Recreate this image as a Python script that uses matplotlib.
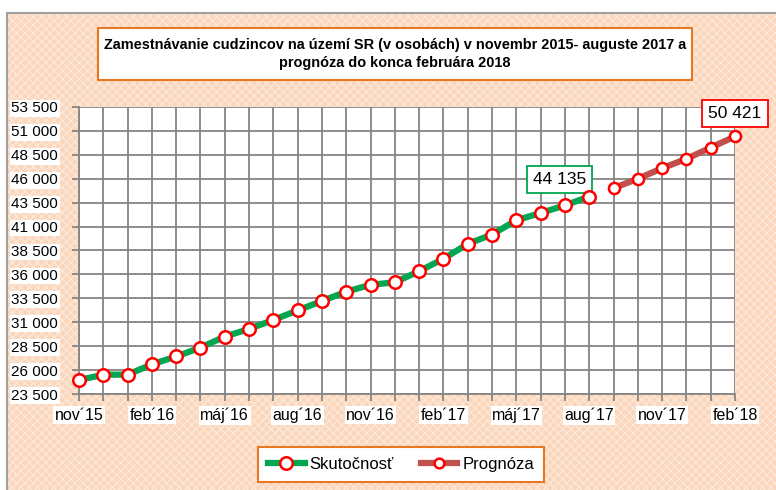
import matplotlib.pyplot as plt
from matplotlib.patches import Rectangle
from matplotlib.lines import Line2D

# Mesiace nov 2015 - feb 2018
mesiace = ["nov´15", "dec´15", "jan´16", "feb´16", "mar´16", "apr´16", "máj´16",
           "jún´16", "júl´16", "aug´16", "sep´16", "okt´16", "nov´16", "dec´16",
           "jan´17", "feb´17", "mar´17", "apr´17", "máj´17", "jún´17", "júl´17",
           "aug´17", "sep´17", "okt´17", "nov´17", "dec´17", "jan´18", "feb´18"]

skutocnost = [24960, 25520, 25520, 26600, 27420, 28350, 29500, 30300, 31240, 32240,
              33220, 34190, 34920, 35170, 36340, 37630, 39190, 40170, 41660, 42420,
              43220, 44135]
prognoza = [45020, 46000, 47100, 48080, 49260, 50421]

y_ticky = list(range(23500, 53501, 2500))

plt.rcParams['font.family'] = ['Liberation Sans Narrow', 'DejaVu Sans Condensed',
                               'Liberation Sans', 'DejaVu Sans']

fig = plt.figure(figsize=(7.76, 4.9), dpi=100)
W, H = 776, 490


def fx(px):
    return px / W


def fy(py):
    return 1 - py / H


# pozadie grafu
for kw in [dict(facecolor="#FBD6BA", edgecolor="none"),
           dict(facecolor="none", edgecolor="#FDE8D8", hatch="xxxx", lw=0),
           dict(facecolor="none", edgecolor="#A0A0A0", lw=1.5)]:
    fig.patches.append(Rectangle((fx(7), -0.05), 1.1, fy(13) + 0.05,
                                 transform=fig.transFigure, zorder=-10, **kw))

# nadpis
fig.patches.append(Rectangle((fx(98), fy(80)), fx(692) - fx(98), fy(28) - fy(80),
                             transform=fig.transFigure, facecolor="white",
                             edgecolor="#E87722", lw=1.5, zorder=-5))
nadpis = fig.text(fx(395), fy(54), "Zamestnávanie cudzincov na území SR (v osobách) v novembr 2015- auguste 2017 a\n"
                  "prognóza do konca februára 2018", ha="center", va="center", fontsize=11.5,
                  fontweight="bold", linespacing=1.3)

ax = fig.add_axes([fx(79), fy(394), fx(735) - fx(79), fy(107) - fy(394)])
ax.set_facecolor("white")

x_skut = list(range(len(skutocnost)))
x_prog = list(range(len(skutocnost), len(skutocnost) + len(prognoza)))

ax.plot(x_skut, skutocnost, color="#00A650", lw=4.5, marker="o", ms=9,
        mfc="white", mec="red", mew=1.8, zorder=5, clip_on=False, label="Skutočnosť")
ax.plot(x_prog, prognoza, color="#C0504D", lw=4.5, marker="o", ms=8,
        mfc="white", mec="red", mew=1.8, zorder=5, clip_on=False, label="Prognóza")

ax.set_xlim(0, len(mesiace) - 1)
ax.set_ylim(23500, 53500)
ax.set_yticks(y_ticky)
ax.set_yticklabels([f"{v:,}".replace(",", " ") for v in y_ticky], fontsize=11)
ax.set_xticks(range(0, len(mesiace), 3))
ax.set_xticklabels(mesiace[::3], fontsize=11.5)
ax.set_xticks(range(len(mesiace)), minor=True)
ax.grid(True, which="both", color="#858585", lw=1.3)
ax.set_axisbelow(True)
for s in ax.spines.values():
    s.set_color("#858585")
    s.set_linewidth(1.3)
ax.spines["top"].set_visible(False)
ax.spines["right"].set_visible(False)
ax.tick_params(axis="both", which="both", length=5, color="#858585", width=1.3)
ax.tick_params(axis="x", which="major", pad=5)
ax.tick_params(axis="y", pad=10)
for lbl in ax.get_yticklabels() + ax.get_xticklabels():
    lbl.set_bbox(dict(facecolor="white", edgecolor="none", pad=1))

# popisky hodnot
ax.annotate("44 135", xy=(x_skut[-1], skutocnost[-1]), xytext=(-30, 17), textcoords="offset pixels",
            ha="center", va="center", fontsize=12.5,
            bbox=dict(boxstyle="square,pad=0.35", facecolor="white", edgecolor="#00A650", lw=1.3))
ax.annotate("50 421", xy=(x_prog[-1], prognoza[-1]), xytext=(0, 23), textcoords="offset pixels",
            ha="center", va="center", fontsize=12.5, annotation_clip=False,
            bbox=dict(boxstyle="square,pad=0.35", facecolor="white", edgecolor="red", lw=1.3))

handles = [Line2D([], [], color="#00A650", lw=4.5, marker="o", ms=9, mfc="white", mec="red", mew=1.8),
           Line2D([], [], color="#C0504D", lw=4.5, marker="o", ms=7, mfc="white", mec="red", mew=1.8)]
leg = fig.legend(handles, ["Skutočnosť", "Prognóza"], loc="center", ncol=2,
                 bbox_to_anchor=(fx(401), fy(464)), fontsize=12, frameon=True, fancybox=False,
                 handlelength=2.2, columnspacing=1.6, handletextpad=0.3, borderpad=0.6)
leg.get_frame().set_edgecolor("#E87722")
leg.get_frame().set_linewidth(1.5)
leg.get_frame().set_facecolor("white")
leg.get_frame().set_alpha(1)

# prisposobenie velkosti nadpisu sirke ramceka
r = fig.canvas.get_renderer()
sirka = nadpis.get_window_extent(r).width
nadpis.set_fontsize(11.5 * 584 / sirka)

fig.savefig("out.png", dpi=100)
